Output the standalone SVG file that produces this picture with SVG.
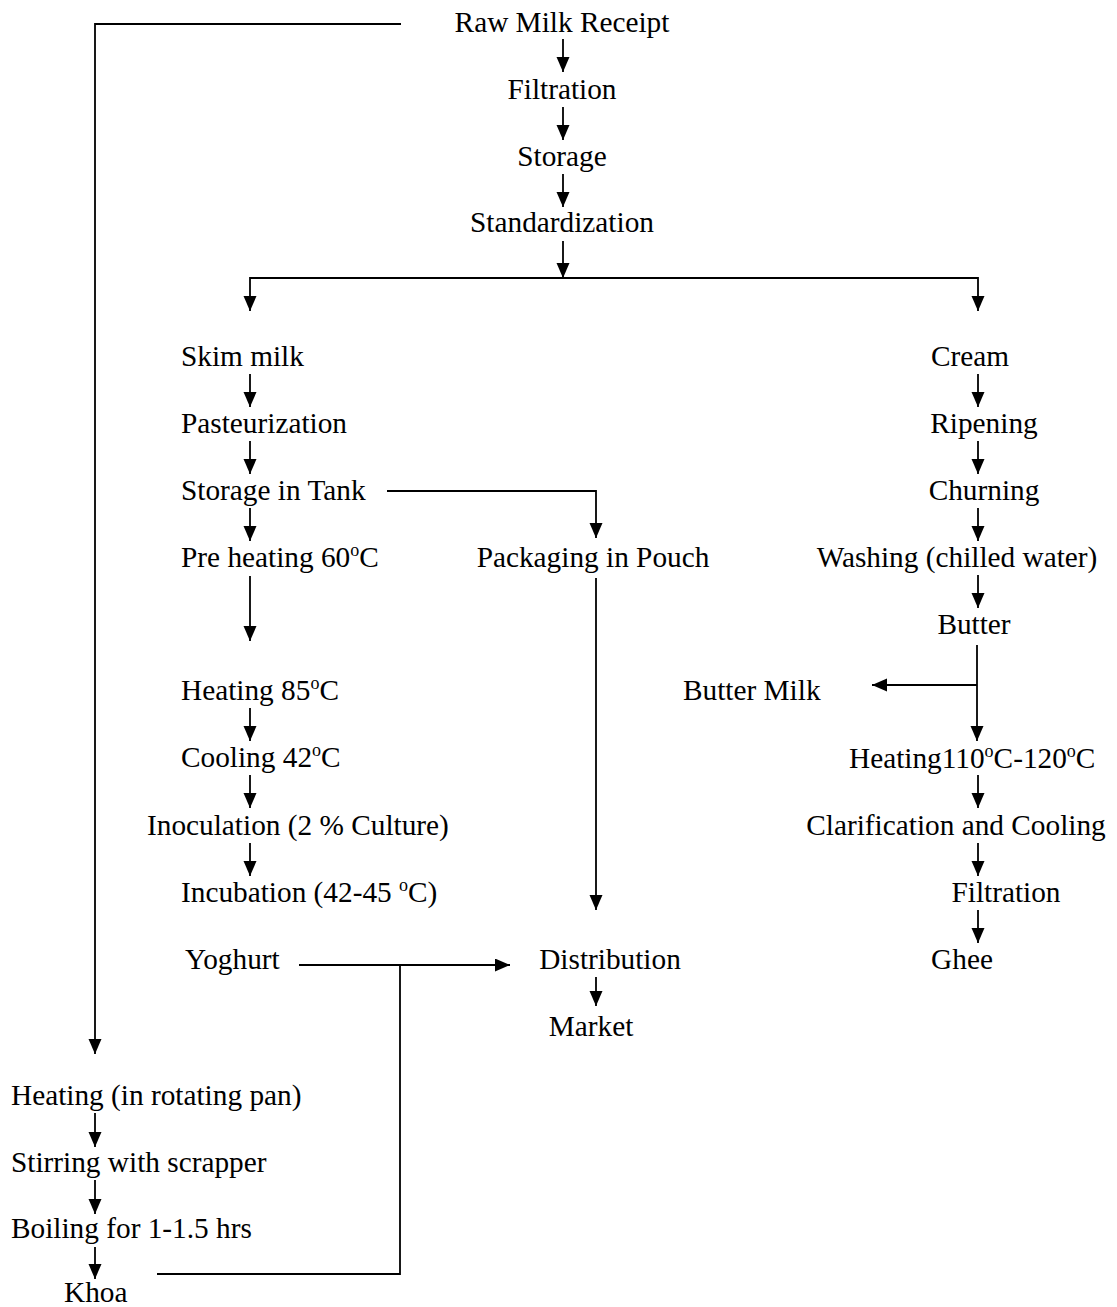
<svg xmlns="http://www.w3.org/2000/svg" width="1117" height="1307" viewBox="0 0 1117 1307">
<style>
text{font-family:"Liberation Serif","Times New Roman",serif;font-size:29.3px;fill:#000}
.m{text-anchor:middle}
.sup{font-size:18px}
.c{stroke:#000;stroke-width:1.8;fill:none}
.a{marker-end:url(#ah)}
</style>
<defs>
<marker id="ah" markerUnits="userSpaceOnUse" markerWidth="16" markerHeight="14" refX="15" refY="6.5" orient="auto">
<path d="M0,0 L15,6.5 L0,13 z" fill="#000"/>
</marker>
</defs>
<rect width="1117" height="1307" fill="#fff"/>
<g id="connectors">
<path class="c a" d="M401,24 H95 V1054"/>
<path class="c a" d="M563,39 V72"/>
<path class="c a" d="M563,107 V140"/>
<path class="c a" d="M563,174 V207"/>
<path class="c a" d="M563,241 V278"/>
<path class="c a" d="M563,278 H250 V311"/>
<path class="c a" d="M563,278 H978 V311"/>
<path class="c a" d="M250,374 V407"/>
<path class="c a" d="M250,441 V474"/>
<path class="c a" d="M250,508 V541"/>
<path class="c a" d="M250,576 V641"/>
<path class="c a" d="M250,708 V741"/>
<path class="c a" d="M250,775 V808"/>
<path class="c a" d="M250,843 V876"/>
<path class="c a" d="M387,491 H596 V538"/>
<path class="c a" d="M596,578 V910"/>
<path class="c a" d="M299,965 H510"/>
<path class="c" d="M157,1274 H400 V965"/>
<path class="c a" d="M596,977 V1006"/>
<path class="c a" d="M978,374 V407"/>
<path class="c a" d="M978,441 V474"/>
<path class="c a" d="M978,508 V541"/>
<path class="c a" d="M978,575 V608"/>
<path class="c a" d="M977,645 V741"/>
<path class="c a" d="M977,685 H872"/>
<path class="c a" d="M978,775 V808"/>
<path class="c a" d="M978,843 V876"/>
<path class="c a" d="M978,910 V943"/>
<path class="c a" d="M95,1113 V1147"/>
<path class="c a" d="M95,1180 V1214"/>
<path class="c a" d="M95,1247 V1279"/>
</g>
<g id="n-raw"><text class="m" x="562" y="32">Raw Milk Receipt</text></g>
<g id="n-filtration"><text class="m" x="562" y="99">Filtration</text></g>
<g id="n-storage"><text class="m" x="562" y="166">Storage</text></g>
<g id="n-standardization"><text class="m" x="562" y="232">Standardization</text></g>
<g id="n-skim"><text x="181" y="366">Skim milk</text></g>
<g id="n-pasteurization"><text x="181" y="433">Pasteurization</text></g>
<g id="n-storagetank"><text x="181" y="500">Storage in Tank</text></g>
<g id="n-preheating"><text x="181" y="567">Pre heating 60<tspan class="sup" dy="-11">o</tspan><tspan dy="11">C</tspan></text></g>
<g id="n-heating85"><text x="181" y="700">Heating 85<tspan class="sup" dy="-11">o</tspan><tspan dy="11">C</tspan></text></g>
<g id="n-cooling"><text x="181" y="767">Cooling 42<tspan class="sup" dy="-11">o</tspan><tspan dy="11">C</tspan></text></g>
<g id="n-inoculation"><text x="147" y="835">Inoculation (2 % Culture)</text></g>
<g id="n-incubation"><text x="181" y="902">Incubation (42-45 <tspan class="sup" dy="-11">o</tspan><tspan dy="11">C)</tspan></text></g>
<g id="n-yoghurt"><text x="185" y="969">Yoghurt</text></g>
<g id="n-packaging"><text class="m" x="593" y="567">Packaging in Pouch</text></g>
<g id="n-distribution"><text class="m" x="610" y="969">Distribution</text></g>
<g id="n-market"><text class="m" x="591" y="1036">Market</text></g>
<g id="n-cream"><text class="m" x="970" y="366">Cream</text></g>
<g id="n-ripening"><text class="m" x="984" y="433">Ripening</text></g>
<g id="n-churning"><text class="m" x="984" y="500">Churning</text></g>
<g id="n-washing"><text class="m" x="957" y="567">Washing (chilled water)</text></g>
<g id="n-butter"><text class="m" x="974" y="634">Butter</text></g>
<g id="n-buttermilk"><text x="683" y="700">Butter Milk</text></g>
<g id="n-heating110"><text x="849" y="768">Heating110<tspan class="sup" dy="-11">o</tspan><tspan dy="11">C-120</tspan><tspan class="sup" dy="-11">o</tspan><tspan dy="11">C</tspan></text></g>
<g id="n-clarification"><text class="m" x="956" y="835">Clarification and Cooling</text></g>
<g id="n-filtration2"><text class="m" x="1006" y="902">Filtration</text></g>
<g id="n-ghee"><text class="m" x="962" y="969">Ghee</text></g>
<g id="n-heatingpan"><text x="11" y="1105">Heating (in rotating pan)</text></g>
<g id="n-stirring"><text x="11" y="1172">Stirring with scrapper</text></g>
<g id="n-boiling"><text x="11" y="1238">Boiling for 1-1.5 hrs</text></g>
<g id="n-khoa"><text x="64" y="1302">Khoa</text></g>
</svg>
